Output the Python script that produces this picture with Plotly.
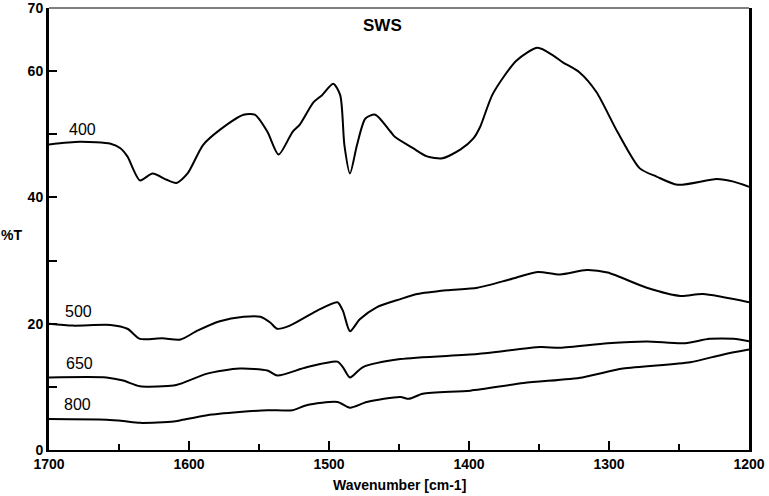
import plotly.graph_objects as go

# ---- data ----
wn_400 = [1700, 1678, 1656, 1649, 1644, 1635, 1626, 1616, 1609, 1601, 1590, 1578, 1561, 1553,
          1544, 1536, 1526, 1521, 1511, 1505, 1497, 1492, 1489, 1485, 1480, 1474, 1467, 1456,
          1453, 1440, 1430, 1419, 1406, 1397, 1392, 1383, 1366, 1351, 1340, 1333, 1321, 1309,
          1294, 1278, 1266, 1251, 1223, 1211, 1200]
t_400 = [48.4, 48.8, 48.5, 47.8, 46.5, 42.7, 43.8, 42.8, 42.3, 43.8, 48.3, 50.7, 53.1, 53.1,
         50.4, 46.8, 50.4, 51.5, 55.1, 56.2, 58.0, 56.2, 48.3, 43.8, 48.3, 52.5, 53.1, 50.4,
         49.6, 47.8, 46.5, 46.2, 47.6, 49.3, 51.2, 56.4, 61.7, 63.7, 62.5, 61.4, 59.8, 56.7,
         50.4, 44.6, 43.3, 42.0, 42.9, 42.5, 41.7]

wn_500 = [1700, 1683, 1656, 1644, 1635, 1619, 1606, 1594, 1578, 1561, 1549, 1542, 1537, 1528,
          1509, 1494, 1490, 1485, 1478, 1466, 1449, 1437, 1416, 1394, 1371, 1351, 1335, 1316,
          1301, 1273, 1249, 1233, 1200]
t_500 = [20.0, 19.7, 19.8, 19.2, 17.6, 17.7, 17.5, 18.9, 20.4, 21.1, 21.1, 20.2, 19.2, 19.7,
         22.0, 23.4, 22.0, 18.8, 20.7, 22.6, 23.9, 24.7, 25.3, 25.7, 27.0, 28.2, 27.8, 28.5,
         28.1, 25.7, 24.4, 24.7, 23.4]

wn_650 = [1700, 1659, 1647, 1635, 1611, 1606, 1587, 1564, 1544, 1537, 1516, 1494, 1490, 1485,
          1476, 1449, 1394, 1349, 1335, 1301, 1273, 1247, 1228, 1211, 1200]
t_650 = [11.5, 11.5, 11.0, 10.1, 10.2, 10.5, 12.1, 12.9, 12.6, 11.8, 13.1, 14.0, 13.1, 11.5,
         13.1, 14.4, 15.2, 16.3, 16.2, 16.9, 17.2, 16.9, 17.6, 17.6, 17.2]

wn_800 = [1700, 1659, 1647, 1635, 1611, 1606, 1587, 1564, 1544, 1526, 1516, 1494, 1485, 1473,
          1449, 1443, 1433, 1399, 1361, 1319, 1290, 1242, 1219, 1200]
t_800 = [4.9, 4.8, 4.6, 4.3, 4.5, 4.7, 5.5, 6.0, 6.3, 6.3, 7.1, 7.6, 6.7, 7.6,
         8.4, 8.1, 8.9, 9.4, 10.6, 11.5, 12.9, 13.9, 15.1, 15.9]

series = [("400", wn_400, t_400), ("500", wn_500, t_500),
          ("650", wn_650, t_650), ("800", wn_800, t_800)]

label_x = {"400": 1676, "500": 1679, "650": 1678, "800": 1680}
label_y = {"400": 50.7, "500": 22.0, "650": 13.7, "800": 7.2}

x_ticks = [1700, 1600, 1500, 1400, 1300, 1200]
y_ticks = [0, 10, 20, 30, 40, 50, 60, 70]
y_ticktext = ["0", "", "20", "", "40", "", "60", "70"]

FONT = "Liberation Sans, Arial, sans-serif"

fig = go.Figure()
for name, x, y in series:
    fig.add_trace(go.Scatter(x=x, y=y, mode="lines", name=name,
                             line=dict(color="black", width=2, shape="spline", smoothing=0.7),
                             showlegend=False, hoverinfo="skip"))
    fig.add_annotation(x=label_x[name], y=label_y[name], text=name, showarrow=False,
                       font=dict(family=FONT, size=16, color="black"))

fig.add_annotation(xref="paper", yref="paper", x=0.477, y=0.987, text="<b>SWS</b>",
                   showarrow=False, font=dict(family=FONT, size=17, color="black"))
fig.add_annotation(xref="paper", yref="paper", x=-0.053, y=0.487, text="<b>%T</b>",
                   showarrow=False, xanchor="center",
                   font=dict(family=FONT, size=14, color="black"))
fig.add_annotation(xref="paper", yref="paper", x=0.501, y=-0.079, text="<b>Wavenumber [cm-1]</b>",
                   showarrow=False, xanchor="center", yanchor="middle",
                   font=dict(family=FONT, size=14, color="black"))

# thin top border
fig.add_shape(type="line", xref="paper", yref="paper", x0=0, x1=1, y0=1, y1=1,
              line=dict(color="black", width=1))

fig.update_layout(
    width=769, height=496,
    margin=dict(l=49, r=20, t=8, b=46),
    paper_bgcolor="white", plot_bgcolor="white",
    font=dict(family=FONT, color="black"),
    xaxis=dict(range=[1700, 1200], tickvals=x_ticks, ticks="inside", ticklen=9,
               tickwidth=2, tickcolor="black", showgrid=False, zeroline=False,
               showline=True, linewidth=2, linecolor="black", mirror=False,
               automargin=False, ticklabeloverflow="allow",
               tickfont=dict(family=FONT, size=14, color="black", weight="bold"),
               minor=dict(tickvals=[1650, 1550, 1450, 1350, 1250], ticks="inside",
                          ticklen=6, tickwidth=2, tickcolor="black")),
    yaxis=dict(range=[0, 70], tickvals=y_ticks, ticktext=y_ticktext, ticks="inside",
               ticklen=8, tickwidth=2, tickcolor="black", showgrid=False, zeroline=False,
               showline=True, linewidth=3, linecolor="black", mirror=True,
               automargin=False, ticklabeloverflow="allow",
               tickfont=dict(family=FONT, size=14, color="black", weight="bold")),
)

fig.write_html("out.html", config={"displayModeBar": False},
               post_script="document.body.style.margin='0px';document.body.style.padding='0px';")
